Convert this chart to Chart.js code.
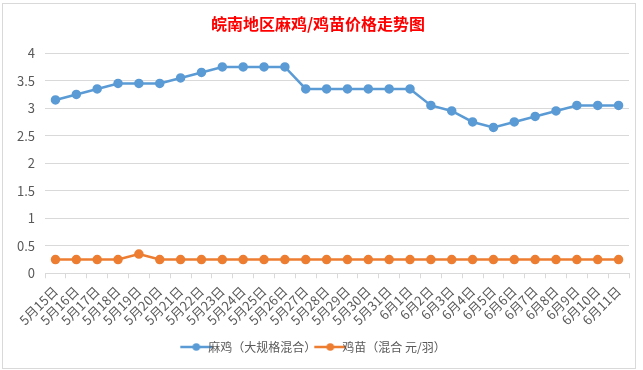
<!DOCTYPE html>
<html>
<head>
<meta charset="utf-8">
<script src="https://cdn.jsdelivr.net/npm/chart.js@4/dist/chart.umd.min.js"></script>
<style>
  html, body { margin: 0; padding: 0; background: #fff; }
  #wrap {
    position: absolute; left: 2px; top: 3px;
    width: 632px; height: 364px;
    border: 1px solid #d9d9d9; background: #fff;
  }
</style>
</head>
<body>
<div id="wrap"><canvas id="price-chart" width="632" height="364"></canvas></div>
<script>
// dates on the category axis
var dates = ['5月15日', '5月16日', '5月17日', '5月18日', '5月19日', '5月20日', '5月21日',
  '5月22日', '5月23日', '5月24日', '5月25日', '5月26日', '5月27日', '5月28日', '5月29日',
  '5月30日', '5月31日', '6月1日', '6月2日', '6月3日', '6月4日', '6月5日', '6月6日',
  '6月7日', '6月8日', '6月9日', '6月10日', '6月11日'];

var maji = [3.15, 3.25, 3.35, 3.45, 3.45, 3.45, 3.55, 3.65, 3.75, 3.75, 3.75, 3.75, 3.35, 3.35,
  3.35, 3.35, 3.35, 3.35, 3.05, 2.95, 2.75, 2.65, 2.75, 2.85, 2.95, 3.05, 3.05, 3.05];

var jimiao = [0.25, 0.25, 0.25, 0.25, 0.35, 0.25, 0.25, 0.25, 0.25, 0.25, 0.25, 0.25, 0.25, 0.25,
  0.25, 0.25, 0.25, 0.25, 0.25, 0.25, 0.25, 0.25, 0.25, 0.25, 0.25, 0.25, 0.25, 0.25];

var seriesNames = ['麻鸡（大规格混合）', '鸡苗（混合 元/羽）'];
var colors = ['#5B9BD5', '#ED7D31'];

// legend marker: line with a dot, like excel
function legendIcon(color) {
  var c = document.createElement('canvas');
  c.width = 34; c.height = 10;
  var g = c.getContext('2d');
  g.strokeStyle = color; g.lineWidth = 2.5;
  g.beginPath(); g.moveTo(1, 5); g.lineTo(33, 5); g.stroke();
  g.fillStyle = color;
  g.beginPath(); g.arc(17, 5, 3.8, 0, Math.PI * 2); g.fill();
  return c;
}

var ctx = document.getElementById('price-chart').getContext('2d');

var myChart = new Chart(ctx, {
  type: 'line',
  data: {
    labels: dates,
    datasets: [{
      label: seriesNames[0],
      data: maji,
      borderColor: colors[0],
      backgroundColor: colors[0],
      borderWidth: 2.5,
      pointRadius: 3.5,
      pointHoverRadius: 3.5,
      tension: 0
    }, {
      label: seriesNames[1],
      data: jimiao,
      borderColor: colors[1],
      backgroundColor: colors[1],
      borderWidth: 2.5,
      pointRadius: 3.5,
      pointHoverRadius: 3.5,
      tension: 0
    }]
  },
  options: {
    responsive: false,
    animation: false,
    layout: { padding: { left: 4, right: 6, top: 0, bottom: 5 } },
    plugins: {
      title: {
        display: true,
        text: '皖南地区麻鸡/鸡苗价格走势图',
        color: '#ff0000',
        font: { family: '"Noto Sans CJK SC"', size: 16, weight: 'bold' },
        padding: { top: 10, bottom: 20 }
      },
      legend: {
        position: 'bottom',
        labels: {
          color: '#595959',
          font: { family: '"Noto Sans CJK SC"', size: 12 },
          usePointStyle: true,
          boxHeight: 10,
          padding: 8,
          generateLabels: function (chart) {
            return chart.data.datasets.map(function (ds, i) {
              return {
                text: ds.label,
                fontColor: '#595959',
                pointStyle: legendIcon(colors[i]),
                strokeStyle: colors[i],
                fillStyle: colors[i],
                lineWidth: 0,
                datasetIndex: i
              };
            });
          }
        }
      },
      tooltip: { enabled: false }
    },
    scales: {
      x: {
        offset: true,
        grid: { offset: true, drawOnChartArea: false, drawTicks: true, tickLength: 5, color: '#d9d9d9' },
        border: { color: '#d9d9d9' },
        ticks: {
          color: '#595959',
          font: { family: '"Noto Sans CJK SC"', size: 13 },
          minRotation: 45, maxRotation: 45,
          autoSkip: false,
          padding: 5
        }
      },
      y: {
        min: 0, max: 4,
        grid: { color: '#d9d9d9', drawTicks: false },
        border: { display: false },
        ticks: {
          stepSize: 0.5,
          color: '#595959',
          font: { family: '"Noto Sans CJK SC"', size: 13 },
          padding: 10,
          callback: function (v) { return String(v); }
        }
      }
    }
  }
});
</script>
</body>
</html>
